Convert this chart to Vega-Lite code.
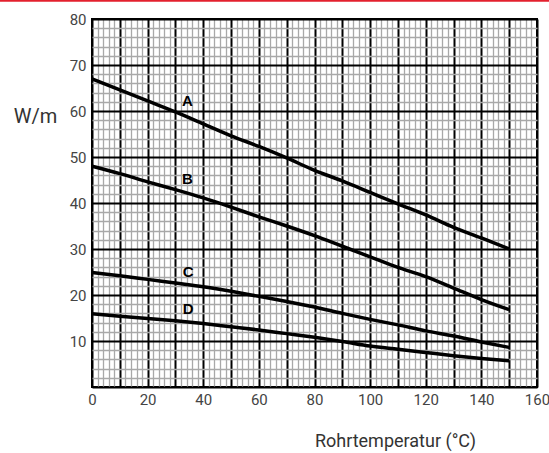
{
  "$schema": "https://vega.github.io/schema/vega-lite/v6.json",
  "autosize": "none",
  "width": 445,
  "height": 368,
  "padding": {"left": 92, "top": 19, "right": 12, "bottom": 66},
  "background": "white",
  "config": {
    "view": {"stroke": "black", "strokeWidth": 2},
    "font": "Roboto"
  },
  "datasets": {
    "curves": [
      {"series": "A", "temp": 0, "wm": 67.0}, {"series": "A", "temp": 10, "wm": 64.6}, {"series": "A", "temp": 20, "wm": 62.2}, {"series": "A", "temp": 30, "wm": 59.8}, {"series": "A", "temp": 40, "wm": 57.2}, {"series": "A", "temp": 50, "wm": 54.6}, {"series": "A", "temp": 60, "wm": 52.3}, {"series": "A", "temp": 70, "wm": 49.8}, {"series": "A", "temp": 80, "wm": 47.1}, {"series": "A", "temp": 90, "wm": 44.8}, {"series": "A", "temp": 100, "wm": 42.3}, {"series": "A", "temp": 110, "wm": 39.8}, {"series": "A", "temp": 120, "wm": 37.4}, {"series": "A", "temp": 130, "wm": 34.7}, {"series": "A", "temp": 140, "wm": 32.4}, {"series": "A", "temp": 150, "wm": 30.0},
      {"series": "B", "temp": 0, "wm": 48.0}, {"series": "B", "temp": 10, "wm": 46.4}, {"series": "B", "temp": 20, "wm": 44.6}, {"series": "B", "temp": 30, "wm": 42.9}, {"series": "B", "temp": 40, "wm": 41.1}, {"series": "B", "temp": 50, "wm": 39.1}, {"series": "B", "temp": 60, "wm": 37.0}, {"series": "B", "temp": 70, "wm": 35.0}, {"series": "B", "temp": 80, "wm": 32.9}, {"series": "B", "temp": 90, "wm": 30.6}, {"series": "B", "temp": 100, "wm": 28.3}, {"series": "B", "temp": 110, "wm": 26.0}, {"series": "B", "temp": 120, "wm": 24.0}, {"series": "B", "temp": 130, "wm": 21.5}, {"series": "B", "temp": 140, "wm": 19.0}, {"series": "B", "temp": 150, "wm": 16.8},
      {"series": "C", "temp": 0, "wm": 24.9}, {"series": "C", "temp": 10, "wm": 24.2}, {"series": "C", "temp": 20, "wm": 23.4}, {"series": "C", "temp": 30, "wm": 22.6}, {"series": "C", "temp": 40, "wm": 21.8}, {"series": "C", "temp": 50, "wm": 20.8}, {"series": "C", "temp": 60, "wm": 19.7}, {"series": "C", "temp": 70, "wm": 18.6}, {"series": "C", "temp": 80, "wm": 17.4}, {"series": "C", "temp": 90, "wm": 16.0}, {"series": "C", "temp": 100, "wm": 14.7}, {"series": "C", "temp": 110, "wm": 13.5}, {"series": "C", "temp": 120, "wm": 12.2}, {"series": "C", "temp": 130, "wm": 11.1}, {"series": "C", "temp": 140, "wm": 9.8}, {"series": "C", "temp": 150, "wm": 8.6},
      {"series": "D", "temp": 0, "wm": 15.9}, {"series": "D", "temp": 10, "wm": 15.4}, {"series": "D", "temp": 20, "wm": 14.9}, {"series": "D", "temp": 30, "wm": 14.4}, {"series": "D", "temp": 40, "wm": 13.8}, {"series": "D", "temp": 50, "wm": 13.1}, {"series": "D", "temp": 60, "wm": 12.4}, {"series": "D", "temp": 70, "wm": 11.6}, {"series": "D", "temp": 80, "wm": 10.8}, {"series": "D", "temp": 90, "wm": 9.9}, {"series": "D", "temp": 100, "wm": 8.9}, {"series": "D", "temp": 110, "wm": 8.2}, {"series": "D", "temp": 120, "wm": 7.5}, {"series": "D", "temp": 130, "wm": 6.8}, {"series": "D", "temp": 140, "wm": 6.2}, {"series": "D", "temp": 150, "wm": 5.7}
    ],
    "labels": [
      {"label": "A", "temp": 34.3, "wm": 62.2},
      {"label": "B", "temp": 34.3, "wm": 45.2},
      {"label": "C", "temp": 34.6, "wm": 25.0},
      {"label": "D", "temp": 34.6, "wm": 17.0}
    ]
  },
  "encoding": {
    "x": {
      "field": "temp", "type": "quantitative",
      "scale": {"domain": [0, 160], "nice": false, "zero": false},
      "axis": {
        "values": [0,2,4,6,8,10,12,14,16,18,20,22,24,26,28,30,32,34,36,38,40,42,44,46,48,50,52,54,56,58,60,62,64,66,68,70,72,74,76,78,80,82,84,86,88,90,92,94,96,98,100,102,104,106,108,110,112,114,116,118,120,122,124,126,128,130,132,134,136,138,140,142,144,146,148,150,152,154,156,158,160],
        "labelExpr": "datum.value % 20 === 0 ? datum.label : ''",
        "labelOverlap": false,
        "labelFlush": false,
        "labelFont": "Roboto",
        "labelFontSize": 15,
        "labelColor": "#444",
        "labelPadding": 5,
        "ticks": false,
        "domain": false,
        "grid": true,
        "gridColor": {"condition": {"test": "datum.value % 10 === 0", "value": "#000"}, "value": "#a8a8a8"},
        "gridWidth": {"condition": {"test": "datum.value % 10 === 0", "value": 2}, "value": 1.3},
        "gridOpacity": 1,
        "title": "Rohrtemperatur (°C)",
        "titleFont": "Roboto",
        "titleFontWeight": "normal",
        "titleFontSize": 18,
        "titleColor": "#333",
        "titleAlign": "center",
        "titleAnchor": null,
        "titleX": 303,
        "titleY": 59,
        "titleBaseline": "alphabetic"
      }
    },
    "y": {
      "field": "wm", "type": "quantitative",
      "scale": {"domain": [0, 80], "nice": false},
      "axis": {
        "values": [0,2,4,6,8,10,12,14,16,18,20,22,24,26,28,30,32,34,36,38,40,42,44,46,48,50,52,54,56,58,60,62,64,66,68,70,72,74,76,78,80],
        "labelExpr": "datum.value % 10 === 0 && datum.value > 0 ? datum.label : ''",
        "labelOverlap": false,
        "labelFlush": false,
        "labelFont": "Roboto",
        "labelFontSize": 15,
        "labelColor": "#444",
        "labelPadding": 6,
        "ticks": false,
        "domain": false,
        "grid": true,
        "gridColor": {"condition": {"test": "datum.value % 10 === 0", "value": "#000"}, "value": "#a8a8a8"},
        "gridWidth": {"condition": {"test": "datum.value % 10 === 0", "value": 2}, "value": 1.3},
        "gridOpacity": 1,
        "title": "W/m",
        "titleFont": "Roboto",
        "titleFontWeight": "normal",
        "titleFontSize": 20,
        "titleColor": "#333",
        "titleAngle": 0,
        "titleAlign": "center",
        "titleAnchor": null,
        "titleX": -57,
        "titleY": 103,
        "titleBaseline": "alphabetic"
      }
    }
  },
  "layer": [
    {
      "data": {"name": "curves"},
      "mark": {"type": "line", "color": "black", "strokeWidth": 3.5, "interpolate": "monotone"},
      "encoding": {
        "detail": {"field": "series", "type": "nominal"}
      }
    },
    {
      "data": {"name": "labels"},
      "mark": {"type": "text", "font": "Liberation Sans", "fontWeight": "bold", "fontSize": 15, "color": "black", "baseline": "middle", "align": "center"},
      "encoding": {
        "text": {"field": "label", "type": "nominal"}
      }
    },
    {
      "data": {"name": "labels"},
      "transform": [{"filter": "datum.label === 'A'"}],
      "mark": {"type": "rule", "color": "#e3202e", "strokeWidth": 2.5, "clip": false},
      "encoding": {
        "x": {"datum": -33.2},
        "x2": {"datum": 164.4},
        "y": {"datum": 84.0}
      }
    }
  ]
}
